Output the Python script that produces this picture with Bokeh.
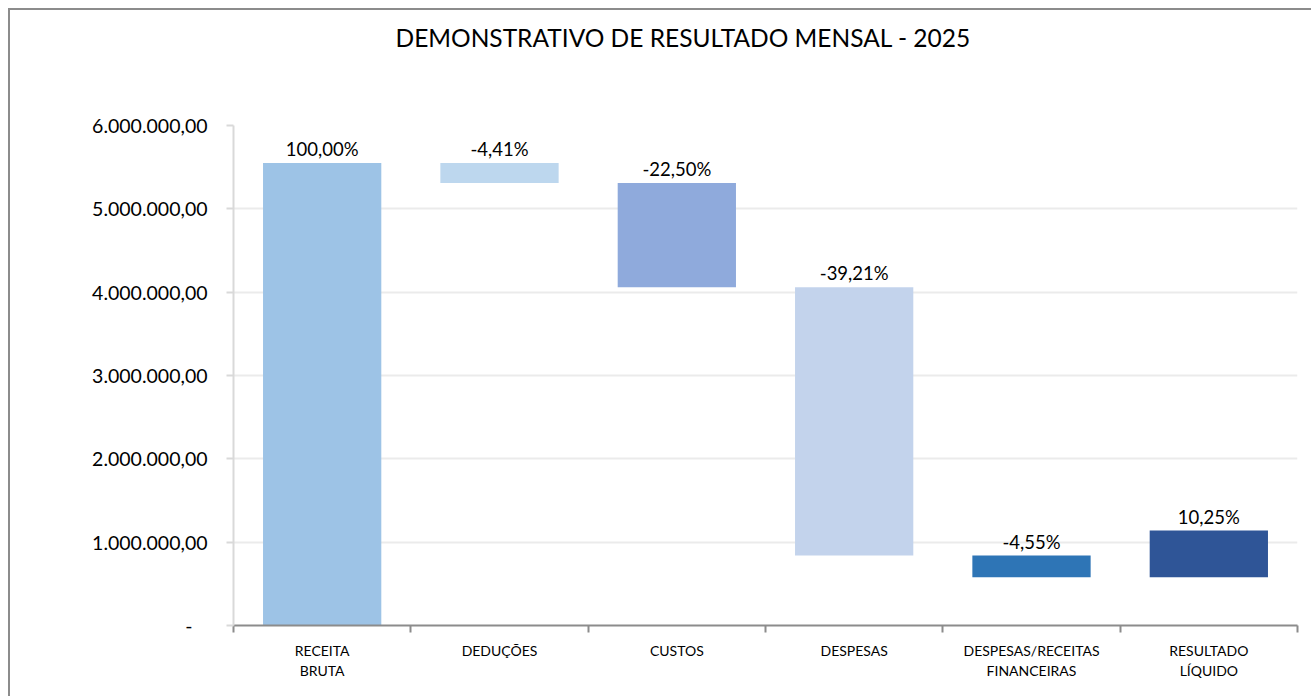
from bokeh.plotting import figure
from bokeh.models import Range1d, FixedTicker, ColumnDataSource, Title
from bokeh.core.properties import value
from bokeh.embed import file_html
from bokeh.resources import INLINE

# ---- data ----
categories = ["RECEITA\nBRUTA", "DEDUÇÕES", "CUSTOS", "DESPESAS",
              "DESPESAS/RECEITAS\nFINANCEIRAS", "RESULTADO\nLÍQUIDO"]
bar_bottom = [0, 5310000, 4060000, 840000, 580000, 580000]
bar_top = [5550000, 5550000, 5310000, 4060000, 840000, 1140000]
pct_labels = ["100,00%", "-4,41%", "-22,50%", "-39,21%", "-4,55%", "10,25%"]
bar_colors = ["#9DC3E6", "#BDD7EE", "#8FAADC", "#C3D3EC", "#2E75B6", "#2F5597"]
y_ticks = [0, 1000000, 2000000, 3000000, 4000000, 5000000, 6000000]
title_text = "DEMONSTRATIVO DE RESULTADO MENSAL - 2025"

FONT = "Lato"

def br_fmt(v):
    if v == 0:
        return "-\u00a0\u00a0\u00a0"
    s = f"{v:,.2f}"
    return s.replace(",", "X").replace(".", ",").replace("X", ".")

n = len(categories)
xs = [i + 0.5 for i in range(n)]
src = ColumnDataSource(dict(x=xs, bottom=bar_bottom, top=bar_top,
                            color=bar_colors, label=pct_labels))

W, H = 1303, 688
p = figure(width=W, height=H, output_backend="svg", toolbar_location=None,
           x_range=Range1d(0, n), y_range=Range1d(0, y_ticks[-1]),
           min_border_left=223, min_border_right=16,
           min_border_top=115, min_border_bottom=73)
p.background_fill_color = "white"
p.border_fill_color = "white"
p.outline_line_color = None
p.styles = {"border-top": "2px solid #8C8C8C", "border-left": "2px solid #8C8C8C",
            "margin-left": "8px", "margin-top": "8px"}
p.title.standoff = 0

# spacer (nearest the frame) then the real title above it
p.add_layout(Title(text=" ", standoff=43, text_font=FONT,
                   text_font_size="24.5px"), "above")
p.add_layout(Title(text=title_text, align="left", offset=162, standoff=0,
                   text_font=FONT, text_font_size="24.5px",
                   text_font_style="normal", text_color="#000000"), "above")

p.vbar(x="x", width=0.667, bottom="bottom", top="top", fill_color="color",
       line_color=None, source=src)

p.text(x="x", y="top", text="label", source=src, text_align="center",
       text_baseline="bottom", y_offset=-3, text_font=value(FONT),
       text_font_size="18.5px", text_color="#000000")

# y axis
yax = p.yaxis[0]
yax.ticker = FixedTicker(ticks=y_ticks)
yax.major_label_overrides = {t: br_fmt(t) for t in y_ticks}
yax.axis_line_color = "#D9D9D9"
yax.axis_line_width = 2
yax.major_tick_line_color = "#D9D9D9"
yax.major_tick_line_width = 2
yax.major_tick_in = 0
yax.major_tick_out = 7
yax.minor_tick_line_color = None
yax.major_label_standoff = 19
yax.major_label_text_font = FONT
yax.major_label_text_font_size = "19.5px"
yax.major_label_text_color = "#000000"

# x axis
xax = p.xaxis[0]
xax.ticker = FixedTicker(ticks=xs, minor_ticks=list(range(n + 1)))
xax.major_label_overrides = {x: c for x, c in zip(xs, categories)}
xax.axis_line_color = "#8C8C8C"
xax.axis_line_width = 2
xax.major_tick_line_color = None
xax.minor_tick_line_color = "#8C8C8C"
xax.minor_tick_line_width = 2
xax.minor_tick_in = 0
xax.minor_tick_out = 7
xax.major_label_standoff = 9
xax.major_label_text_font = FONT
xax.major_label_text_font_size = "14px"
xax.major_label_text_color = "#000000"
xax.major_label_orientation = "horizontal"

p.xgrid.grid_line_color = None
p.ygrid.grid_line_color = "#EBEBEB"
p.ygrid.grid_line_width = 2

open("out.html", "w").write(file_html(p, INLINE))
